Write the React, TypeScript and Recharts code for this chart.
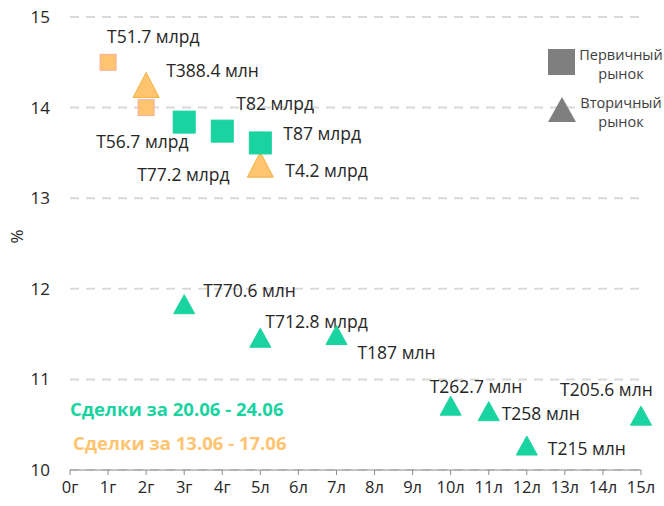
import { ScatterChart, Scatter, XAxis, YAxis, CartesianGrid, Label } from 'recharts'

// x-axis categories (tenor), index = position on the axis
const xLabels = ['0г', '1г', '2г', '3г', '4г', '5л', '6л', '7л', '8л', '9л', '10л', '11л', '12л', '13л', '14л', '15л']
const yTicks = [10, 11, 12, 13, 14, 15]

// Сделки за 20.06 - 24.06, первичный рынок
const primaryNewX = [3, 4, 5]
const primaryNewY = [13.84, 13.74, 13.61]
const primaryNewLabels = ['T77.2 млрд', 'T82 млрд', 'T87 млрд']

// Сделки за 13.06 - 17.06, первичный рынок
const primaryOldX = [1, 2]
const primaryOldY = [14.5, 14.0]
const primaryOldLabels = ['T51.7 млрд', 'T56.7 млрд']

// Сделки за 20.06 - 24.06, вторичный рынок
const secondaryNewX = [3, 5, 7, 10, 11, 12, 15]
const secondaryNewY = [11.83, 11.46, 11.49, 10.71, 10.65, 10.27, 10.6]
const secondaryNewLabels = ['T770.6 млн', 'T712.8 млрд', 'T187 млн', 'T262.7 млн', 'T258 млн', 'T215 млн', 'T205.6 млн']

// Сделки за 13.06 - 17.06, вторичный рынок
const secondaryOldX = [2, 5]
const secondaryOldY = [14.25, 13.37]
const secondaryOldLabels = ['T388.4 млн', 'T4.2 млрд']

const toRows = (xs: number[], ys: number[], labels: string[]) =>
  xs.map((x, i) => ({ x, y: ys[i], label: labels[i] }))

// label placement relative to the marker centre: [dx to text start, dy to text middle]
const primaryNewPos = [[-47, 52], [14, -28], [23, -10]]
const primaryOldPos = [[-1, -26], [-50, 33]]
const secondaryNewPos = [[19, -14], [5, -17], [21, 17], [-21, -20], [13, 2], [21, 2], [-81, -27]]
const secondaryOldPos = [[20, -15], [25, 5]]

const GREEN = '#19D3A0'
const ORANGE = '#FFC470'
const FONT = '"Open Sans", "Liberation Sans", sans-serif'

const labelText = (cx: number, cy: number, pos: number[], text: string) => (
  <text
    x={cx + pos[0]}
    y={cy + pos[1]}
    dominantBaseline="central"
    fontSize={17.5}
    fill="#262626"
    fontFamily={FONT}
  >
    {text}
  </text>
)

const squareShape = (size: number, fill: string, stroke: string, positions: number[][]) => (props: any) => {
  const { cx, cy, payload, index } = props
  return (
    <g>
      <rect x={cx - size / 2} y={cy - size / 2} width={size} height={size} fill={fill} stroke={stroke} strokeWidth={1} />
      {labelText(cx, cy, positions[index], payload.label)}
    </g>
  )
}

const triangleShape = (w: number, h: number, fill: string, stroke: string, positions: number[][]) => (props: any) => {
  const { cx, cy, payload, index } = props
  const pts = `${cx},${cy - h / 2} ${cx + w / 2},${cy + h / 2} ${cx - w / 2},${cy + h / 2}`
  return (
    <g>
      <polygon points={pts} fill={fill} stroke={stroke} strokeWidth={1} strokeLinejoin="round" />
      {labelText(cx, cy, positions[index], payload.label)}
    </g>
  )
}

const App = () => {
  const wrapStyle: React.CSSProperties = {
    position: 'absolute',
    left: 0,
    top: 0,
    width: 664,
    height: 506,
    background: '#fff',
    fontFamily: FONT,
  }

  const legendText: React.CSSProperties = {
    position: 'absolute',
    left: 578,
    width: 86,
    textAlign: 'center',
    fontSize: 14.5,
    lineHeight: '19px',
    color: '#404040',
  }

  const noteStyle: React.CSSProperties = {
    position: 'absolute',
    left: 70,
    fontSize: 18.5,
    fontWeight: 700,
    lineHeight: '22px',
    whiteSpace: 'nowrap',
  }

  return (
    <div style={wrapStyle}>
      <ScatterChart width={664} height={506} margin={{ top: 17, right: 23, bottom: 0, left: 0 }}>
        <CartesianGrid vertical={false} stroke="#D9D9D9" strokeWidth={2} strokeDasharray="9 7" />
        <XAxis
          type="number"
          dataKey="x"
          domain={[0, 15]}
          ticks={xLabels.map((_, i) => i)}
          tickFormatter={(v: number) => xLabels[v]}
          interval={0}
          height={36}
          axisLine={{ stroke: '#8C8C8C' }}
          tickLine={{ stroke: '#8C8C8C' }}
          tickSize={5}
          tickMargin={6}
          tick={{ fill: '#262626', fontSize: 16.5, fontFamily: FONT }}
        />
        <YAxis
          type="number"
          dataKey="y"
          domain={[10, 15]}
          ticks={yTicks}
          width={70}
          axisLine={false}
          tickLine={false}
          tickSize={0}
          tickMargin={20}
          tick={{ fill: '#262626', fontSize: 17, fontFamily: FONT }}
        >
          <Label value="%" angle={-90} position="insideLeft" offset={17} fill="#262626" fontSize={17} fontFamily={FONT} />
        </YAxis>
        <Scatter
          data={toRows(primaryOldX, primaryOldY, primaryOldLabels)}
          shape={squareShape(16, ORANGE, '#F6AE9E', primaryOldPos)}
          isAnimationActive={false}
        />
        <Scatter
          data={toRows(secondaryOldX, secondaryOldY, secondaryOldLabels)}
          shape={triangleShape(26, 25, ORANGE, '#F0B23C', secondaryOldPos)}
          isAnimationActive={false}
        />
        <Scatter
          data={toRows(primaryNewX, primaryNewY, primaryNewLabels)}
          shape={squareShape(22, GREEN, GREEN, primaryNewPos)}
          isAnimationActive={false}
        />
        <Scatter
          data={toRows(secondaryNewX, secondaryNewY, secondaryNewLabels)}
          shape={triangleShape(21, 19, GREEN, GREEN, secondaryNewPos)}
          isAnimationActive={false}
        />
      </ScatterChart>

      {/* legend */}
      <svg style={{ position: 'absolute', left: 540, top: 40 }} width={44} height={90}>
        <rect x={8} y={9} width={27} height={26} fill="#7F7F7F" />
        <polygon points="22,57 36,82 8,82" fill="#7F7F7F" />
      </svg>
      <div style={{ ...legendText, top: 45 }}>Первичный<br />рынок</div>
      <div style={{ ...legendText, top: 93 }}>Вторичный<br />рынок</div>

      <div style={{ ...noteStyle, top: 398, color: GREEN }}>Сделки за 20.06 - 24.06</div>
      <div style={{ ...noteStyle, top: 432, left: 73, color: ORANGE }}>Сделки за 13.06 - 17.06</div>
    </div>
  )
}

export default App
